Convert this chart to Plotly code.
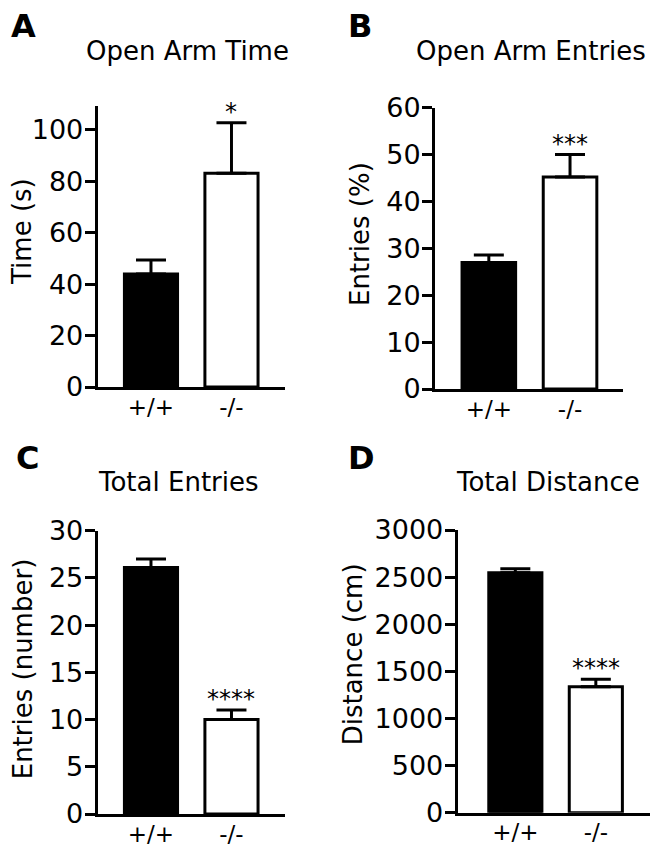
import plotly.graph_objects as go

W, H = 659, 857
OFF = 8  # default page body margin

groups = ["+/+", "-/-"]

time_mean = [44.0, 83.1]
time_err = [5.4, 19.7]

oae_mean = [27.0, 45.2]
oae_err = [1.6, 4.8]

tot_mean = [26.1, 10.0]
tot_err = [0.9, 1.0]

dist_mean = [2547, 1337]
dist_err = [42, 79]

titles = ["Open Arm Time", "Open Arm Entries", "Total Entries", "Total Distance"]
ytitles = ["Time (s)", "Entries (%)", "Entries (number)", "Distance (cm)"]
letters = ["A", "B", "C", "D"]
stars = ["*", "***", "****", "****"]

means = [time_mean, oae_mean, tot_mean, dist_mean]
errs = [time_err, oae_err, tot_err, dist_err]

# layout (page pixels)
panels = [
    dict(x0=97.7, x1=285.0, y0=387.0, y1=106.0, yr=[0, 109.3], xr=[-0.662, 1.665], dt=20,
         title=(187.7, 50.5), ytit=(22, 232), letter=(9, 25.8)),
    dict(x0=435.0, x1=623.3, y0=389.0, y1=107.7, yr=[0, 60], xr=[-0.663, 1.656], dt=10,
         title=(530.5, 50.5), ytit=(360, 234), letter=(345.5, 25.8)),
    dict(x0=97.7, x1=285.0, y0=814.0, y1=530.7, yr=[0, 30], xr=[-0.662, 1.665], dt=5,
         title=(178, 482), ytit=(23.3, 669), letter=(14, 458)),
    dict(x0=457.7, x1=650.0, y0=812.7, y1=530.0, yr=[0, 3000], xr=[-0.716, 1.673], dt=500,
         title=(548.3, 482), ytit=(353.3, 654), letter=(345.5, 458)),
]

FONT = "DejaVu Sans"
FW, FH = W - OFF, H - OFF

def px(x):
    return (x - OFF) / FW

def py(y):
    return 1 - (y - OFF) / FH

fig = go.Figure()
annotations = []
layout = {}
for i, p in enumerate(panels):
    n = "" if i == 0 else str(i + 1)
    xa, ya = "x" + n, "y" + n
    fig.add_trace(go.Bar(
        x=groups, y=means[i], xaxis=xa, yaxis=ya, width=0.66,
        marker=dict(color=["black", "white"], line=dict(color="black", width=3)),
        error_y=dict(type="data", symmetric=False, array=errs[i], arrayminus=[0, 0],
                     color="black", thickness=3, width=15),
        showlegend=False, hoverinfo="skip",
    ))
    layout["xaxis" + n] = dict(
        domain=[px(p["x0"]), px(p["x1"])], anchor=ya, range=p["xr"],
        showline=True, linewidth=3, linecolor="black", ticks="", showgrid=False,
        zeroline=False, tickfont=dict(family=FONT, size=23, color="black"),
        ticklabelstandoff=-3, fixedrange=True, automargin=False,
    )
    layout["yaxis" + n] = dict(
        domain=[py(p["y0"]), py(p["y1"])], anchor=xa, range=p["yr"],
        showline=True, linewidth=3, linecolor="black", ticks="outside", ticklen=10,
        tickwidth=3, tickcolor="black", dtick=p["dt"], tick0=0, showgrid=False,
        zeroline=False, tickfont=dict(family=FONT, size=27, color="black"),
        ticklabelstandoff=-4, fixedrange=True, automargin=False,
    )
    # significance stars
    annotations.append(dict(
        x=groups[1], y=means[i][1] + errs[i][1], xref=xa, yref=ya, text=stars[i],
        showarrow=False, yanchor="bottom", yshift=-5,
        font=dict(family=FONT, size=24, color="black"),
    ))
    # panel title
    annotations.append(dict(
        x=px(p["title"][0]), y=py(p["title"][1]), xref="paper", yref="paper",
        text=titles[i], showarrow=False, xanchor="center", yanchor="middle",
        font=dict(family=FONT, size=26, color="black"),
    ))
    # y title
    annotations.append(dict(
        x=px(p["ytit"][0]), y=py(p["ytit"][1]), xref="paper", yref="paper",
        text=ytitles[i], showarrow=False, xanchor="center", yanchor="middle",
        textangle=-90, font=dict(family=FONT, size=26, color="black"),
    ))
    # panel letter
    annotations.append(dict(
        x=px(p["letter"][0]), y=py(p["letter"][1]), xref="paper", yref="paper",
        text="<b>" + letters[i] + "</b>", showarrow=False, xanchor="left",
        yanchor="middle", font=dict(family=FONT, size=32, color="black"),
    ))

fig.update_layout(
    template="none",
    width=FW, height=FH, margin=dict(l=0, r=0, t=0, b=0, pad=0),
    paper_bgcolor="white", plot_bgcolor="white",
    font=dict(family=FONT, color="black"),
    annotations=annotations, bargap=0.3, **layout,
)
fig.write_html("out.html")
